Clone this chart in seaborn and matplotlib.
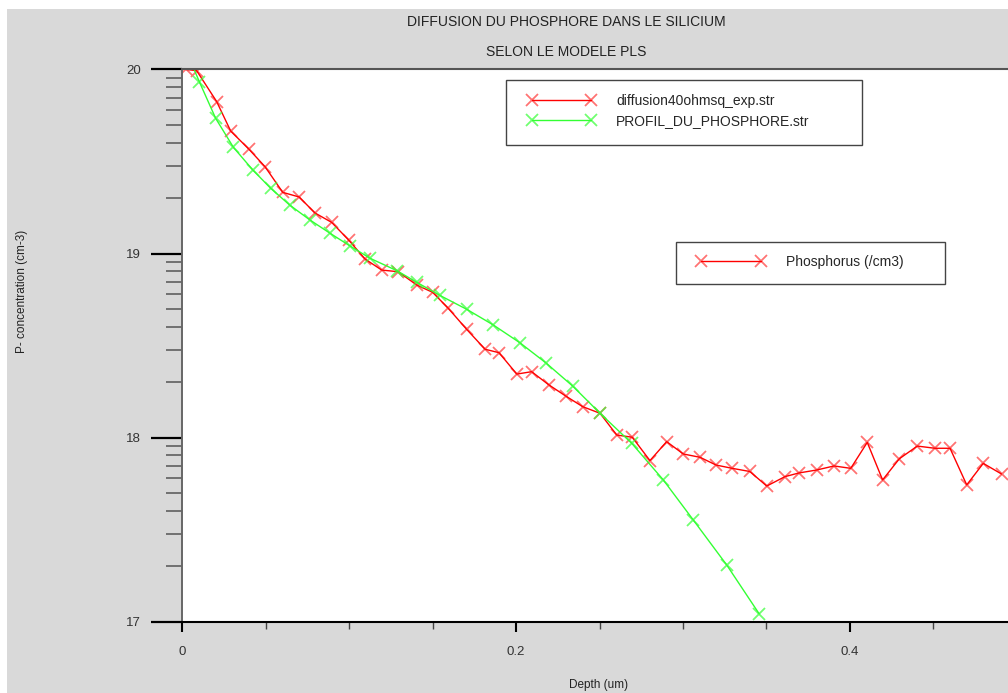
import numpy as np
import pandas as pd
import matplotlib
matplotlib.use("Agg")
import matplotlib.pyplot as plt
from matplotlib.patches import Rectangle
from matplotlib.lines import Line2D
from matplotlib.ticker import FixedLocator, FixedFormatter
import seaborn as sns

# ---------------- data (log10 of P concentration, cm-3) ----------------
exp_depth = [0.002, 0.0086, 0.0206, 0.0290, 0.0400, 0.0496, 0.0602, 0.0700, 0.0795,
             0.0895, 0.0997, 0.1095, 0.1195, 0.1294, 0.1404, 0.1500, 0.1594, 0.1704,
             0.1814, 0.1898, 0.2004, 0.2093, 0.2197, 0.2297, 0.2399, 0.2503, 0.2603,
             0.2696, 0.2802, 0.2902, 0.3002, 0.3102, 0.3198, 0.3295, 0.3400, 0.3502,
             0.3611, 0.3695, 0.3801, 0.3905, 0.4005, 0.4104, 0.4196, 0.4296, 0.4404,
             0.4510, 0.4600, 0.4700, 0.4799, 0.4909]
exp_logc = [20.00, 19.993, 19.825, 19.665, 19.566, 19.471, 19.332, 19.307, 19.220,
            19.169, 19.073, 18.970, 18.910, 18.901, 18.829, 18.789, 18.702, 18.588,
            18.480, 18.461, 18.345, 18.358, 18.286, 18.226, 18.168, 18.132, 18.014,
            18.002, 17.875, 17.978, 17.911, 17.893, 17.851, 17.833, 17.816, 17.737,
            17.788, 17.808, 17.824, 17.846, 17.833, 17.974, 17.770, 17.885, 17.954,
            17.942, 17.942, 17.743, 17.860, 17.802]

sim_depth = [0.0, 0.0102, 0.0200, 0.0306, 0.0422, 0.0530, 0.0645, 0.0765, 0.0885,
             0.1005, 0.1125, 0.1285, 0.1404, 0.1544, 0.1704, 0.1863, 0.2023, 0.2177,
             0.2339, 0.2503, 0.2693, 0.2882, 0.3062, 0.3262, 0.3457]
sim_logc = [20.15, 19.933, 19.734, 19.577, 19.454, 19.354, 19.262, 19.182, 19.110,
            19.041, 18.974, 18.907, 18.844, 18.772, 18.697, 18.612, 18.515, 18.407,
            18.280, 18.132, 17.969, 17.770, 17.552, 17.308, 17.042]

series_names = ["diffusion40ohmsq_exp.str", "PROFIL_DU_PHOSPHORE.str"]
quantity_name = "Phosphorus (/cm3)"
title_lines = ["DIFFUSION DU PHOSPHORE DANS LE SILICIUM", "SELON LE MODELE PLS"]
x_label = "Depth (um)"
y_label = "P- concentration (cm-3)"
x_major = [0.0, 0.2, 0.4]
x_major_labels = ["0", "0.2", "0.4"]
y_decades = [17, 18, 19, 20]

# ---------------- style ----------------
sns.set_style("white")
plt.rcParams["font.family"] = ["Liberation Sans", "DejaVu Sans"]

W, H = 1008, 693
fig = plt.figure(figsize=(W / 100, H / 100), dpi=100)
fig.patch.set_facecolor("white")
GRAY = "#d9d9d9"
fig.patches.append(Rectangle((7 / W, 0), 1, 1 - 9 / H, transform=fig.transFigure,
                             facecolor=GRAY, edgecolor="none", zorder=-10))


def px(x, y):
    return (x / W, 1 - y / H)


left, right, top, bottom = 182.3, 1008, 69.3, 621.7
ax = fig.add_axes([left / W, 1 - bottom / H, (right - left) / W, (bottom - top) / H])
ax.set_facecolor("white")

RED = "#ff0000"
GREEN = "#33ff33"
red_mk = (1.0, 0.0, 0.0, 0.55)
green_mk = (0.2, 1.0, 0.2, 0.7)

df_exp = pd.DataFrame({"depth": exp_depth, "logc": exp_logc})
df_sim = pd.DataFrame({"depth": sim_depth, "logc": sim_logc})

sns.lineplot(data=df_exp, x="depth", y="logc", ax=ax, color=RED, lw=1.0,
             marker="x", markersize=8.5, markeredgewidth=1.3, markeredgecolor=red_mk,
             estimator=None, sort=False, legend=False)
sns.lineplot(data=df_sim, x="depth", y="logc", ax=ax, color=GREEN, lw=1.0,
             marker="x", markersize=8.5, markeredgewidth=1.3, markeredgecolor=green_mk,
             estimator=None, sort=False, legend=False)

ax.set_xlim(0, (right - left) / 1669.0)
ax.set_ylim(17, 17 + (bottom - top) / 184.1)
ax.set_xlabel("")
ax.set_ylabel("")

# ticks
ax.xaxis.set_major_locator(FixedLocator(x_major))
ax.xaxis.set_major_formatter(FixedFormatter(x_major_labels))
ax.xaxis.set_minor_locator(FixedLocator(np.arange(0, 0.5, 0.05)))
ax.yaxis.set_major_locator(FixedLocator(y_decades))
ax.yaxis.set_major_formatter(FixedFormatter([str(d) for d in y_decades]))
minors = [d + np.log10(k) for d in y_decades[:-1] for k in range(2, 10)]
ax.yaxis.set_minor_locator(FixedLocator(minors))

ax.tick_params(axis="y", which="major", direction="out", length=22.3, width=1.6,
               color="black", pad=7.2, labelsize=9.5, labelcolor="#333333")
ax.tick_params(axis="y", which="minor", direction="out", length=11.5, width=1.1,
               color="#555555")
ax.tick_params(axis="x", which="major", direction="out", length=7.2, width=1.5,
               color="black", pad=10.5, labelsize=9.5, labelcolor="#333333")
ax.tick_params(axis="x", which="minor", direction="out", length=5, width=1.0,
               color="#444444")
ax.tick_params(left=True, bottom=True, which="both")

for s in ["top", "left", "bottom", "right"]:
    ax.spines[s].set_visible(True)
ax.spines["right"].set_visible(False)
ax.spines["top"].set_color("#555555")
ax.spines["top"].set_linewidth(1.5)
ax.spines["left"].set_color("#666666")
ax.spines["left"].set_linewidth(1.4)
ax.spines["bottom"].set_color("black")
ax.spines["bottom"].set_linewidth(1.5)
ax.grid(False)

# titles and axis labels
fig.text(*px(566, 22), title_lines[0], ha="center", va="center", fontsize=10, color="#222222")
fig.text(*px(566, 52), title_lines[1], ha="center", va="center", fontsize=10, color="#222222")
fig.text(*px(599, 691), x_label, ha="center", va="bottom", fontsize=8.5, color="#222222")
fig.text(*px(22, 291), y_label, ha="center", va="center", rotation=90, fontsize=8.5,
         color="#222222")

# legend boxes
fig.patches.append(Rectangle(px(506, 145), (862 - 506) / W, (145 - 80) / H,
                             transform=fig.transFigure, facecolor="white",
                             edgecolor="#444444", lw=1.0, zorder=5))
fig.patches.append(Rectangle(px(676, 284), (945 - 676) / W, (284 - 242) / H,
                             transform=fig.transFigure, facecolor="white",
                             edgecolor="#444444", lw=1.0, zorder=5))

h_red = Line2D([], [], color=RED, lw=1.0, marker="x", markersize=8.5,
               markeredgewidth=1.3, markeredgecolor=red_mk)
h_green = Line2D([], [], color=GREEN, lw=1.0, marker="x", markersize=8.5,
                 markeredgewidth=1.3, markeredgecolor=green_mk)

fs = 10
leg1 = fig.legend([h_red, h_green], series_names, loc="upper left",
                  bbox_to_anchor=px(528, 94), bbox_transform=fig.transFigure,
                  frameon=False, borderpad=0, borderaxespad=0, numpoints=2,
                  handlelength=4.8, handletextpad=1.55, labelspacing=0.45,
                  fontsize=fs)
leg1.set_zorder(6)
leg2 = fig.legend([h_red], [quantity_name], loc="upper left",
                  bbox_to_anchor=px(697, 255), bbox_transform=fig.transFigure,
                  frameon=False, borderpad=0, borderaxespad=0, numpoints=2,
                  handlelength=4.9, handletextpad=1.5, fontsize=fs)
leg2.set_zorder(6)

fig.savefig("out.png", dpi=100, facecolor=fig.get_facecolor())
